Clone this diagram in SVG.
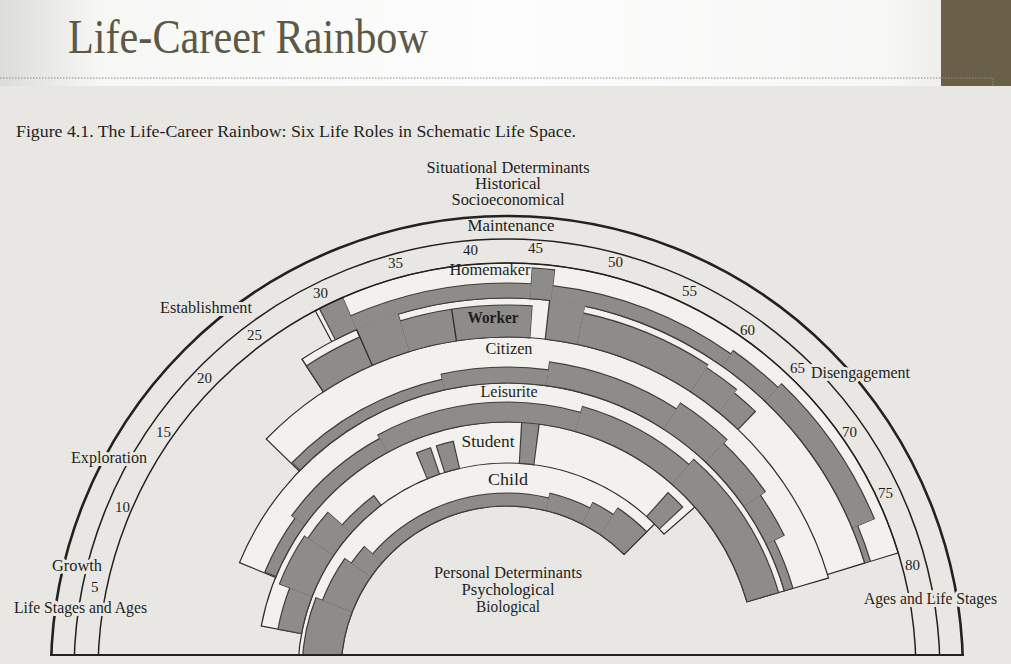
<svg xmlns="http://www.w3.org/2000/svg" width="1011" height="664" viewBox="0 0 1011 664">
<defs>
<linearGradient id="hdr" x1="0" x2="1" y1="0" y2="0">
<stop offset="0" stop-color="#dcdcda"/><stop offset="0.1" stop-color="#f7f7f6"/><stop offset="0.5" stop-color="#fdfdfd"/><stop offset="0.88" stop-color="#f7f7f6"/><stop offset="1" stop-color="#e2e2e0"/>
</linearGradient>
<style>
.o{fill:none;stroke:#2e2d2b}
.w{fill:none;stroke:#f2f1ed}
.gd{fill:none;stroke:#3f3e3b}
.g{fill:none;stroke:#8e8c88}
.ln{stroke:#2e2d2b;stroke-width:1.3;fill:none}
.arc{fill:none;stroke:#232220}
.t{font-family:"Liberation Serif","DejaVu Serif",serif;fill:#1f1e1c;font-size:16px}
.c{text-anchor:middle}
.h{paint-order:stroke;stroke:#e8e7e3;stroke-width:6px;stroke-linejoin:round}
.n{font-size:15px}
</style>
</defs>
<rect width="1011" height="664" fill="#e8e7e3"/>
<rect width="1011" height="86" fill="url(#hdr)"/>
<rect x="941" y="0" width="70" height="86" fill="#6a604a"/>
<line x1="0" y1="78" x2="993" y2="78" stroke="#8a8a88" stroke-width="1" stroke-dasharray="1.5 1.5"/>
<line x1="993" y1="78" x2="993" y2="86" stroke="#8a8a88" stroke-width="1" stroke-dasharray="1.5 1.5"/>
<text x="68" y="53" font-family="Liberation Serif, serif" font-size="49" fill="#5c5946" textLength="360" lengthAdjust="spacingAndGlyphs">Life-Career Rainbow</text>
<text class="t" x="16" y="137" font-size="16" textLength="560" lengthAdjust="spacingAndGlyphs">Figure 4.1.  The Life-Career Rainbow: Six Life Roles in Schematic Life Space.</text>

<g id="rainbow">
<g transform="translate(507,672)">
<g id="band-outlines" class="o">
<circle r="391.5" pathLength="170" stroke-width="36.2" stroke-dasharray="0 114.26 47.78 400"/>
<circle r="354.5" pathLength="170" stroke-width="40.2" stroke-dasharray="0 111.75 50.3 400"/>
<circle r="312" pathLength="170" stroke-width="47.2" stroke-dasharray="0 105.75 56.6 400"/>
<circle r="269.5" pathLength="170" stroke-width="40.2" stroke-dasharray="0 95.44 66.92 400"/>
<circle r="229.5" pathLength="170" stroke-width="42.2" stroke-dasharray="0 89.93 60.64 400"/>
<circle r="187.5" pathLength="170" stroke-width="44.2" stroke-dasharray="0 82 66.79 400"/>
</g>
<g id="band-fills" class="w">
<circle r="391.5" pathLength="170" stroke-width="33.8" stroke-dasharray="0 114.34 47.62 400"/>
<circle r="354.5" pathLength="170" stroke-width="37.8" stroke-dasharray="0 111.85 50.1 400"/>
<circle r="312" pathLength="170" stroke-width="44.8" stroke-dasharray="0 105.85 56.4 400"/>
<circle r="269.5" pathLength="170" stroke-width="37.8" stroke-dasharray="0 95.56 66.68 400"/>
<circle r="229.5" pathLength="170" stroke-width="39.8" stroke-dasharray="0 90.07 60.36 400"/>
<circle r="187.5" pathLength="170" stroke-width="41.8" stroke-dasharray="0 82 66.61 400"/>
</g>
<g id="bar-outlines" class="gd">
<circle r="391.5" pathLength="170" stroke-width="36.2" stroke-dasharray="0 114.56 1.78 400"/>
<circle r="381.5" pathLength="170" stroke-width="16.2" stroke-dasharray="0 116.26 12.98 400"/>
<circle r="389.5" pathLength="170" stroke-width="32.2" stroke-dasharray="0 129.16 1.58 400"/>
<circle r="381.5" pathLength="170" stroke-width="16.2" stroke-dasharray="0 130.66 13.48 400"/>
<circle r="383.5" pathLength="170" stroke-width="20.2" stroke-dasharray="0 144.06 4.08 400"/>
<circle r="386" pathLength="170" stroke-width="25.2" stroke-dasharray="0 148.06 11.28 400"/>
<circle r="377" pathLength="170" stroke-width="7.2" stroke-dasharray="0 159.26 2.74 400"/>

<circle r="350.5" pathLength="170" stroke-width="32.2" stroke-dasharray="0 111.75 4.55 400"/>
<circle r="354.5" pathLength="170" stroke-width="40.2" stroke-dasharray="0 116.25 3.3 400"/>
<circle r="351" pathLength="170" stroke-width="33.2" stroke-dasharray="0 119.45 9.95 400"/>
<circle r="354.5" pathLength="170" stroke-width="40.2" stroke-dasharray="0 130.55 2.65 400"/>
<circle r="351" pathLength="170" stroke-width="33.2" stroke-dasharray="0 133.15 10.05 400"/>
<circle r="349.5" pathLength="170" stroke-width="30.2" stroke-dasharray="0 143.15 2.85 400"/>
<circle r="347.5" pathLength="170" stroke-width="26.2" stroke-dasharray="0 146 2.15 400"/>

<circle r="294.5" pathLength="170" stroke-width="12.2" stroke-dasharray="0 105.85 15.8 400"/>
<circle r="297" pathLength="170" stroke-width="17.2" stroke-dasharray="0 121.55 9.7 400"/>
<circle r="301" pathLength="170" stroke-width="25.2" stroke-dasharray="0 131.15 11.9 400"/>
<circle r="304.5" pathLength="170" stroke-width="32.2" stroke-dasharray="0 142.95 5.1 400"/>
<circle r="302" pathLength="170" stroke-width="27.2" stroke-dasharray="0 147.95 5.6 400"/>
<circle r="299" pathLength="170" stroke-width="21.2" stroke-dasharray="0 153.45 4.2 400"/>
<circle r="293.5" pathLength="170" stroke-width="10.2" stroke-dasharray="0 157.55 4.8 400"/>

<circle r="256" pathLength="170" stroke-width="13.2" stroke-dasharray="0 95.54 6.52 400"/>
<circle r="258" pathLength="170" stroke-width="17.2" stroke-dasharray="0 101.94 12.12 400"/>
<circle r="260" pathLength="170" stroke-width="21.2" stroke-dasharray="0 113.94 21.12 400"/>
<circle r="263" pathLength="170" stroke-width="27.2" stroke-dasharray="0 134.94 12.12 400"/>
<circle r="266.5" pathLength="170" stroke-width="34.2" stroke-dasharray="0 146.94 15.42 400"/>

<circle r="221" pathLength="170" stroke-width="25.2" stroke-dasharray="0 89.93 5.14 400"/>
<circle r="226.5" pathLength="170" stroke-width="36.2" stroke-dasharray="0 94.93 6.14 400"/>
<circle r="224.5" pathLength="170" stroke-width="32.2" stroke-dasharray="0 100.93 3.84 400"/>
<circle r="215" pathLength="170" stroke-width="13.2" stroke-dasharray="0 104.63 5.44 400"/>
<circle r="223" pathLength="170" stroke-width="29.2" stroke-dasharray="0 116.83 1.84 400"/>
<circle r="223" pathLength="170" stroke-width="29.2" stroke-dasharray="0 119.23 2.14 400"/>
<circle r="229.5" pathLength="170" stroke-width="42.2" stroke-dasharray="0 129.03 2.04 400"/>
<circle r="225" pathLength="170" stroke-width="33.2" stroke-dasharray="0 147.23 2.44 400"/>

<circle r="185.5" pathLength="170" stroke-width="40.2" stroke-dasharray="0 82 13.09 400"/>
<circle r="182" pathLength="170" stroke-width="33.2" stroke-dasharray="0 94.91 6.68 400"/>
<circle r="178" pathLength="170" stroke-width="25.2" stroke-dasharray="0 101.41 3.18 400"/>
<circle r="172.5" pathLength="170" stroke-width="14.2" stroke-dasharray="0 104.41 29.58 400"/>
<circle r="175" pathLength="170" stroke-width="19.2" stroke-dasharray="0 133.81 6.48 400"/>
<circle r="178" pathLength="170" stroke-width="25.2" stroke-dasharray="0 140.11 3.58 400"/>
<circle r="182" pathLength="170" stroke-width="33.2" stroke-dasharray="0 143.51 5.28 400"/>
</g>
<g id="bars" class="g">
<circle r="391.5" pathLength="170" stroke-width="33.8" stroke-dasharray="0 114.64 1.66 400"/>
<circle r="381.5" pathLength="170" stroke-width="13.8" stroke-dasharray="0 116.3 12.9 400"/>
<circle r="389.5" pathLength="170" stroke-width="29.8" stroke-dasharray="0 129.2 1.5 400"/>
<circle r="381.5" pathLength="170" stroke-width="13.8" stroke-dasharray="0 130.7 13.4 400"/>
<circle r="383.5" pathLength="170" stroke-width="17.8" stroke-dasharray="0 144.1 4 400"/>
<circle r="386" pathLength="170" stroke-width="22.8" stroke-dasharray="0 148.1 11.2 400"/>
<circle r="377" pathLength="170" stroke-width="4.8" stroke-dasharray="0 159.3 2.66 400"/>

<circle r="350.5" pathLength="170" stroke-width="29.8" stroke-dasharray="0 111.85 4.45 400"/>
<circle r="355.3" pathLength="170" stroke-width="39.4" stroke-dasharray="0 116.3 3.2 400"/>
<circle r="351" pathLength="170" stroke-width="30.8" stroke-dasharray="0 119.5 9.85 400"/>
<circle r="355.3" pathLength="170" stroke-width="39.4" stroke-dasharray="0 130.65 2.55 400"/>
<circle r="351" pathLength="170" stroke-width="30.8" stroke-dasharray="0 133.2 10 400"/>
<circle r="349.5" pathLength="170" stroke-width="27.8" stroke-dasharray="0 143.2 2.8 400"/>
<circle r="347.5" pathLength="170" stroke-width="23.8" stroke-dasharray="0 146 2.05 400"/>

<circle r="294.5" pathLength="170" stroke-width="9.8" stroke-dasharray="0 105.95 15.65 400"/>
<circle r="297" pathLength="170" stroke-width="14.8" stroke-dasharray="0 121.6 9.6 400"/>
<circle r="301" pathLength="170" stroke-width="22.8" stroke-dasharray="0 131.2 11.8 400"/>
<circle r="304.5" pathLength="170" stroke-width="29.8" stroke-dasharray="0 143 5 400"/>
<circle r="302" pathLength="170" stroke-width="24.8" stroke-dasharray="0 148 5.5 400"/>
<circle r="299" pathLength="170" stroke-width="18.8" stroke-dasharray="0 153.5 4.1 400"/>
<circle r="293.5" pathLength="170" stroke-width="7.8" stroke-dasharray="0 157.6 4.65 400"/>

<circle r="256" pathLength="170" stroke-width="10.8" stroke-dasharray="0 95.66 6.34 400"/>
<circle r="258" pathLength="170" stroke-width="14.8" stroke-dasharray="0 102 12 400"/>
<circle r="260" pathLength="170" stroke-width="18.8" stroke-dasharray="0 114 21 400"/>
<circle r="263" pathLength="170" stroke-width="24.8" stroke-dasharray="0 135 12 400"/>
<circle r="266.5" pathLength="170" stroke-width="31.8" stroke-dasharray="0 147 15.24 400"/>

<circle r="221" pathLength="170" stroke-width="22.8" stroke-dasharray="0 90.07 4.93 400"/>
<circle r="226.5" pathLength="170" stroke-width="33.8" stroke-dasharray="0 95 6 400"/>
<circle r="224.5" pathLength="170" stroke-width="29.8" stroke-dasharray="0 101 3.7 400"/>
<circle r="215" pathLength="170" stroke-width="10.8" stroke-dasharray="0 104.7 5.23 400"/>
<circle r="223" pathLength="170" stroke-width="26.8" stroke-dasharray="0 116.97 1.56 400"/>
<circle r="223" pathLength="170" stroke-width="26.8" stroke-dasharray="0 119.37 1.86 400"/>
<circle r="229.5" pathLength="170" stroke-width="39.8" stroke-dasharray="0 129.17 1.76 400"/>
<circle r="225" pathLength="170" stroke-width="30.8" stroke-dasharray="0 147.37 2.16 400"/>

<circle r="185.5" pathLength="170" stroke-width="37.8" stroke-dasharray="0 82 13 400"/>
<circle r="182" pathLength="170" stroke-width="30.8" stroke-dasharray="0 95 6.5 400"/>
<circle r="178" pathLength="170" stroke-width="22.8" stroke-dasharray="0 101.5 3 400"/>
<circle r="172.5" pathLength="170" stroke-width="11.8" stroke-dasharray="0 104.5 29.4 400"/>
<circle r="175" pathLength="170" stroke-width="16.8" stroke-dasharray="0 133.9 6.3 400"/>
<circle r="178" pathLength="170" stroke-width="22.8" stroke-dasharray="0 140.2 3.4 400"/>
<circle r="182" pathLength="170" stroke-width="30.8" stroke-dasharray="0 143.6 5.01 400"/>
</g>
<g id="dividers" class="ln">
<line x1="-335" y1="0" x2="-374" y2="0" transform="rotate(66.28)"/>
<line x1="-335" y1="0" x2="-367" y2="0" transform="rotate(81.32)"/>
</g>
<g id="scale-arcs" class="arc">
<circle r="456" stroke-width="2.6"/>
<circle r="433" stroke-width="1.5"/>
<circle r="409" stroke-width="1.5"/>
</g>
</g>
</g>
<rect x="0" y="656" width="1011" height="8" fill="#e8e7e3"/>
<line x1="50" y1="655" x2="964" y2="655" stroke="#232220" stroke-width="2"/>

<g id="labels" class="t">
<text class="c" x="508" y="173" textLength="163" lengthAdjust="spacingAndGlyphs">Situational Determinants</text>
<text class="c" x="508" y="189" textLength="66" lengthAdjust="spacingAndGlyphs">Historical</text>
<text class="c" x="508" y="205" textLength="113" lengthAdjust="spacingAndGlyphs">Socioeconomical</text>
<text class="c" x="511" y="231" textLength="87" lengthAdjust="spacingAndGlyphs">Maintenance</text>
<text class="c" x="490" y="275" textLength="81" lengthAdjust="spacingAndGlyphs">Homemaker</text>
<text class="c" x="493" y="323" font-weight="bold" textLength="51" lengthAdjust="spacingAndGlyphs">Worker</text>
<text class="c" x="509" y="354" textLength="47" lengthAdjust="spacingAndGlyphs">Citizen</text>
<text class="c" x="509" y="397" textLength="57" lengthAdjust="spacingAndGlyphs">Leisurite</text>
<text class="c" x="488" y="447" textLength="53" lengthAdjust="spacingAndGlyphs">Student</text>
<text class="c" x="508" y="485" textLength="40" lengthAdjust="spacingAndGlyphs">Child</text>
<text class="c" x="508" y="578" textLength="148" lengthAdjust="spacingAndGlyphs">Personal Determinants</text>
<text class="c" x="508" y="595" textLength="93" lengthAdjust="spacingAndGlyphs">Psychological</text>
<text class="c" x="508" y="612" textLength="64" lengthAdjust="spacingAndGlyphs">Biological</text>
<g class="h">
<text x="160" y="313" textLength="92" lengthAdjust="spacingAndGlyphs">Establishment</text>
<text x="71" y="463" textLength="76" lengthAdjust="spacingAndGlyphs">Exploration</text>
<text x="52" y="571" textLength="50" lengthAdjust="spacingAndGlyphs">Growth</text>
<text x="14" y="613" textLength="133" lengthAdjust="spacingAndGlyphs">Life Stages and Ages</text>
<text x="811" y="378" textLength="99" lengthAdjust="spacingAndGlyphs">Disengagement</text>
<text x="864" y="604" textLength="133" lengthAdjust="spacingAndGlyphs">Ages and Life Stages</text>
</g>
<g class="n">
<text x="91" y="592">5</text>
<text x="115" y="512">10</text>
<text x="156" y="437">15</text>
<text x="197" y="383">20</text>
<text x="247" y="340">25</text>
<text x="313" y="298">30</text>
<text x="388" y="268">35</text>
<text x="463" y="255">40</text>
<text x="528" y="253">45</text>
<text x="608" y="267">50</text>
<text x="682" y="296">55</text>
<text x="740" y="335">60</text>
<text x="790" y="373">65</text>
<text x="842" y="437">70</text>
<text x="878" y="498">75</text>
<text x="905" y="570">80</text>
</g>
</g>
</svg>
